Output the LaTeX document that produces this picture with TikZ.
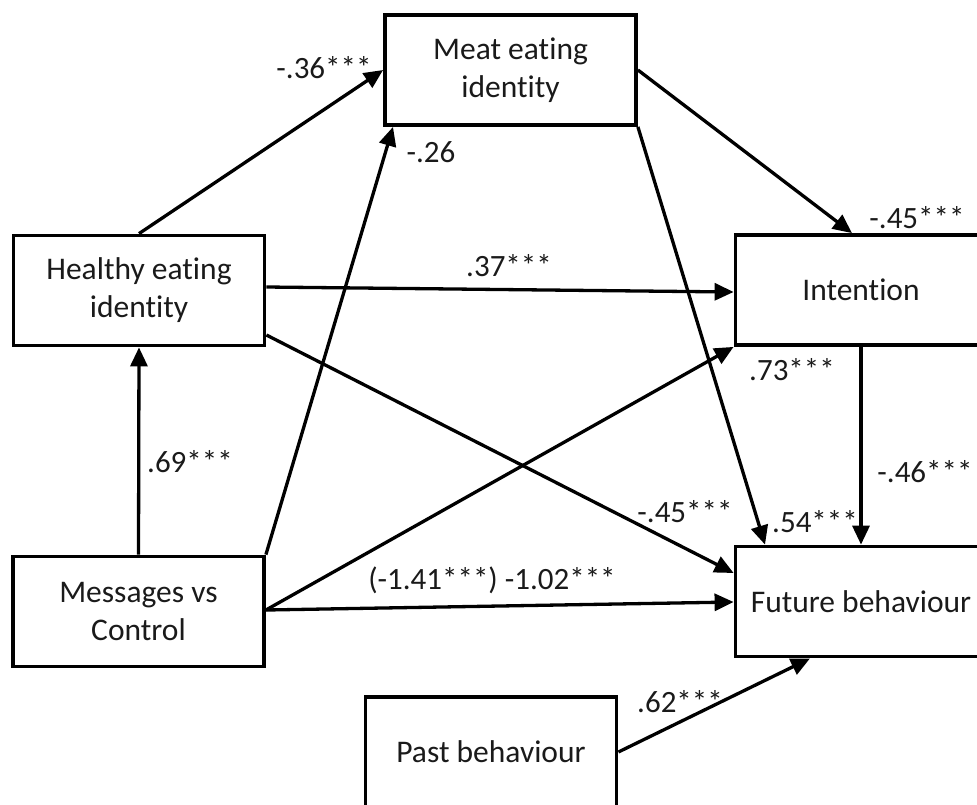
\documentclass[tikz,border=0pt]{standalone}
\usepackage{fontspec}
\setmainfont{Carlito}[RawFeature={-liga;-clig;-calt;-dlig}]
\usetikzlibrary{arrows.meta}
\definecolor{ink}{HTML}{1A1A1A}
% keeps t and i apart (no "ti" ligature)
\newcommand\splitti{t\kern0pt i}
\begin{document}
\begin{tikzpicture}[x=1pt,y=-1pt,
  var/.style={draw=black, line width=3.8pt, minimum width=251pt, minimum height=110pt,
    align=center, inner sep=0pt, text=ink, font=\fontsize{31.5}{38}\selectfont},
  coef/.style={text=ink, inner sep=0pt, font=\fontsize{31}{36}\selectfont},
  path/.style={line width=3.3pt, -{Triangle[length=19pt,width=17pt]}}]
\useasboundingbox (0,0) rectangle (977,804);

% variables
\node[var] (M) at (510.5,70)   {Meat ea\splitti ng\\iden\splitti ty};
\node[var] (H) at (139,290.5)  {Healthy ea\splitti ng\\iden\splitti ty};
\node[var] (C) at (138.5,611.5){Messages vs\\Control};
\node[var] (I) at (861,290)    {Inten\splitti on};
\node[var] (F) at (861,601.5)  {Future behaviour};
\node[var] (P) at (491,752)    {Past behaviour};

% paths
\draw[path] (H.north) -- (M.west);
\draw[path] (C.north east) -- ([xshift=-117.5pt]M.south);
\draw[path] (M.east) -- ([xshift=-9pt]I.north);
\draw[path] (M.south east) -- ([xshift=-96pt]F.north);
\draw[path] ([yshift=3.5pt]H.east) -- ([yshift=-2pt]I.west);
\draw[path] ([yshift=-44.5pt]H.east) -- ([yshift=28.5pt]F.west);
\draw[path] ([yshift=1.5pt]C.east) -- (I.south west);
\draw[path] ([yshift=1.5pt]C.east) -- ([yshift=-0.5pt]F.west);
\draw[path] (I.south) -- (F.north);
\draw[path] (C.north) -- (H.south);
\draw[path] (P.east) -- ([xshift=-51pt]F.south);

% coefficients
\node[coef] (lHM) at (324,68)  {-.36***};
\node[coef] (lCM) at (431,152) {-.26};
\node[coef] (lMI) at (917,218) {-.45***};
\node[coef] (lMF) at (815,522) {.54***};
\node[coef] (lHI) at (509,266) {.37***};
\node[coef] (lHF) at (685,512) {-.45***};
\node[coef] (lCI) at (792,370) {.73***};
\node[coef] (lCF) at (492,580) {(-1.41***) -1.02***};
\node[coef] (lIF) at (925,472) {-.46***};
\node[coef] (lCH) at (190,462) {.69***};
\node[coef] (lPF) at (680,702) {.62***};
\end{tikzpicture}
\end{document}
